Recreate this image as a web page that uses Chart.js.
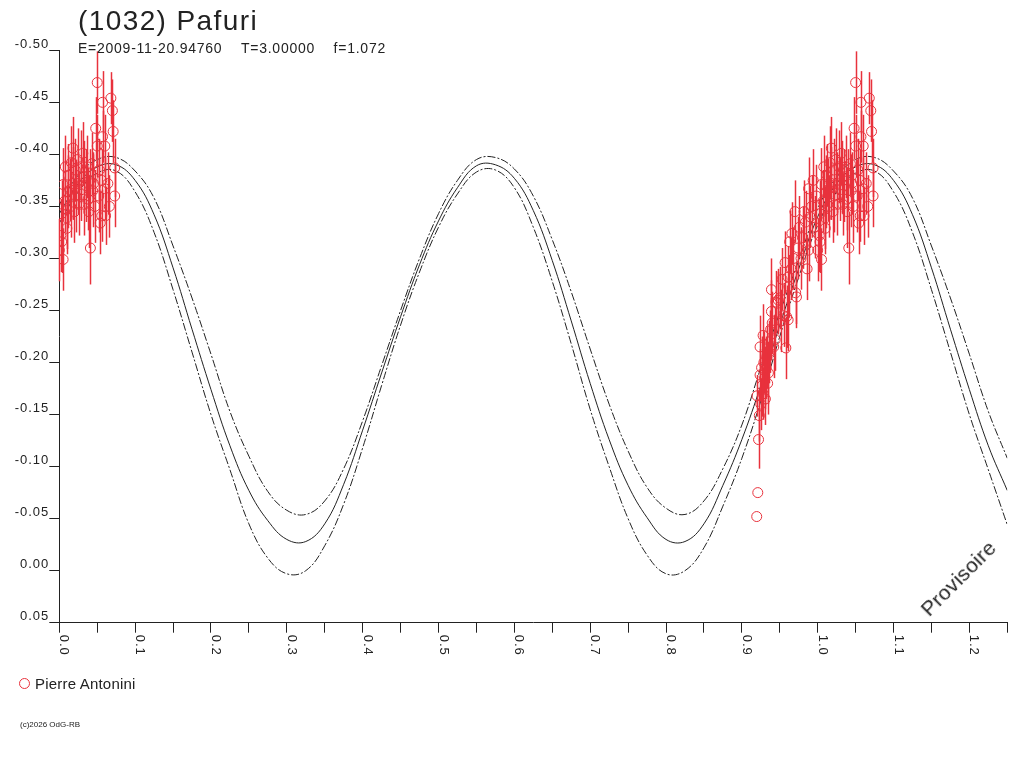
<!DOCTYPE html>
<html>
<head>
<meta charset="utf-8">
<script src="https://cdn.jsdelivr.net/npm/chart.js@4.4.1/dist/chart.umd.min.js"></script>
<style>
body { margin: 0; background: #fff; font-family: "Liberation Sans", Arial, sans-serif; color: #222; }
#wrap { position: relative; width: 1024px; height: 768px; overflow: hidden; }
#lc { position: absolute; left: 0; top: 0; }
.t { position: absolute; white-space: nowrap; line-height: 1; }
#leg-dot { position: absolute; left: 19px; top: 678px; width: 9px; height: 9px; border: 1px solid #e8323c; border-radius: 50%; }
</style>
</head>
<body>
<div id="wrap">
  <canvas id="lc" width="1024" height="768"></canvas>
  <div class="t" style="left:78px;top:7px;font-size:28px;letter-spacing:1.4px">(1032) Pafuri</div>
  <div class="t" style="left:78px;top:41px;font-size:14px;letter-spacing:0.75px">E=2009-11-20.94760&nbsp;&nbsp;&nbsp;&nbsp;T=3.00000&nbsp;&nbsp;&nbsp;&nbsp;f=1.072</div>
  <div id="leg-dot"></div>
  <div class="t" style="left:35px;top:676px;font-size:15px;letter-spacing:0.2px">Pierre Antonini</div>
  <div class="t" style="left:20px;top:721px;font-size:8px">(c)2026 OdG-RB</div>
  <div class="t" style="left:958px;top:578px;font-size:21px;letter-spacing:0.3px;transform:translate(-50%,-50%) rotate(-45deg)">Provisoire</div>
</div>
<script>
const RED = '#e8323c';
const INK = '#222';

// fitted light curve (phase, magnitude): centre and the two envelopes
const curvePhase = [0.000,0.025,0.050,0.075,0.100,0.125,0.150,0.175,0.200,0.225,
                    0.250,0.275,0.300,0.325,0.350,0.375,0.400,0.425,0.450,0.475,
                    0.500,0.525,0.550,0.575,0.600,0.625,0.650,0.675,0.700,0.725,
                    0.750,0.775,0.800,0.825,0.850,0.875,0.900,0.925,0.950,0.975,
                    1.000,1.025,1.050,1.075,1.100,1.125,1.150,1.175,1.200,1.225,1.250];
const fitMid  = [-0.343,-0.372,-0.388,-0.390,-0.375,-0.342,-0.291,-0.232,-0.174,-0.120,
                 -0.077,-0.048,-0.030,-0.028,-0.045,-0.083,-0.135,-0.190,-0.244,-0.294,
                 -0.336,-0.368,-0.389,-0.390,-0.377,-0.346,-0.298,-0.240,-0.180,-0.126,
                 -0.082,-0.051,-0.030,-0.028,-0.045,-0.082,-0.126,-0.178,-0.236,-0.290,
                 -0.340,-0.372,-0.388,-0.390,-0.375,-0.342,-0.291,-0.232,-0.174,-0.120,-0.077];
const fitHigh = [-0.352,-0.380,-0.395,-0.397,-0.384,-0.358,-0.312,-0.262,-0.208,-0.153,
                 -0.110,-0.076,-0.058,-0.054,-0.067,-0.098,-0.144,-0.197,-0.250,-0.300,
                 -0.343,-0.375,-0.395,-0.397,-0.386,-0.360,-0.318,-0.268,-0.213,-0.160,
                 -0.115,-0.080,-0.060,-0.054,-0.067,-0.098,-0.140,-0.195,-0.248,-0.298,
                 -0.348,-0.378,-0.395,-0.397,-0.384,-0.358,-0.312,-0.262,-0.208,-0.153,-0.108];
const fitLow  = [-0.334,-0.364,-0.382,-0.384,-0.364,-0.325,-0.270,-0.210,-0.150,-0.097,
                 -0.045,-0.012, 0.003, 0.000,-0.024,-0.064,-0.118,-0.178,-0.236,-0.287,
                 -0.330,-0.362,-0.383,-0.385,-0.368,-0.330,-0.278,-0.218,-0.155,-0.100,
                 -0.050,-0.015, 0.003, 0.000,-0.022,-0.062,-0.108,-0.163,-0.225,-0.282,
                 -0.332,-0.364,-0.382,-0.384,-0.364,-0.325,-0.270,-0.210,-0.150,-0.097,-0.044];

// observations (Pierre Antonini): phase, reduced magnitude, error
const obsPhase = [0.000,0.002,0.003,0.003,0.005,0.005,0.007,0.008,0.010,0.010,
                  0.011,0.012,0.014,0.015,0.016,0.018,0.018,0.020,0.021,0.022,
                  0.024,0.025,0.026,0.028,0.029,0.031,0.032,0.033,0.035,0.037,
                  0.038,0.039,0.040,0.041,0.043,0.044,0.045,0.047,0.048,0.050,
                  0.050,0.052,0.053,0.054,0.056,0.056,0.057,0.057,0.060,0.060,
                  0.061,0.064,0.066,0.068,0.070,0.071,0.073,0.073,
                  0.9196,0.921,0.922,0.923,0.920,0.924,0.924,0.925,0.926,0.927,
                  0.928,0.928,0.929,0.930,0.931,0.932,0.933,0.934,0.935,0.936,
                  0.937,0.938,0.939,0.939,0.940,0.942,0.944,0.945,0.947,0.948,
                  0.950,0.951,0.953,0.955,0.957,0.958,0.959,0.961,0.961,0.962,
                  0.963,0.965,0.966,0.968,0.970,0.971,0.972,0.974,0.976,0.978,
                  0.980,0.982,0.984,0.986,0.988,0.988,0.990,0.992,0.994,0.996,0.998];
const obsMag   = [-0.308,-0.322,-0.316,-0.343,-0.299,-0.371,-0.355,-0.388,-0.339,-0.329,
                  -0.364,-0.380,-0.366,-0.350,-0.392,-0.406,-0.372,-0.345,-0.385,-0.360,
                  -0.395,-0.372,-0.352,-0.388,-0.366,-0.401,-0.378,-0.352,-0.370,-0.388,
                  -0.357,-0.345,-0.375,-0.310,-0.391,-0.365,-0.372,-0.350,-0.425,-0.469,
                  -0.408,-0.360,-0.385,-0.334,-0.375,-0.341,-0.450,-0.417,-0.408,-0.367,
                  -0.341,-0.372,-0.350,-0.454,-0.442,-0.422,-0.387,-0.360,
                  -0.052,-0.075,-0.126,-0.149,-0.168,-0.188,-0.215,-0.160,-0.195,-0.178,
                  -0.226,-0.170,-0.200,-0.185,-0.165,-0.195,-0.205,-0.180,-0.190,-0.210,
                  -0.220,-0.232,-0.249,-0.270,-0.238,-0.215,-0.222,-0.258,-0.257,-0.260,
                  -0.262,-0.240,-0.280,-0.245,-0.296,-0.214,-0.244,-0.241,-0.282,-0.273,
                  -0.316,-0.290,-0.324,-0.300,-0.345,-0.267,-0.263,-0.310,-0.330,-0.300,
                  -0.320,-0.345,-0.335,-0.290,-0.367,-0.308,-0.340,-0.350,-0.375,-0.330,-0.360];
const obsErr   = [0.030,0.035,0.030,0.032,0.030,0.035,0.030,0.030,0.030,0.025,
                  0.035,0.030,0.030,0.030,0.035,0.030,0.035,0.030,0.030,0.035,
                  0.030,0.030,0.030,0.035,0.030,0.030,0.035,0.030,0.035,0.030,
                  0.030,0.035,0.030,0.035,0.030,0.035,0.030,0.035,0.030,0.030,
                  0.030,0.035,0.030,0.030,0.030,0.025,0.030,0.025,0.030,0.030,
                  0.028,0.030,0.030,0.025,0.030,0.030,0.028,0.030,
                  0.000,0.000,0.028,0.025,0.020,0.025,0.030,0.025,0.030,0.030,
                  0.030,0.025,0.030,0.030,0.025,0.030,0.030,0.030,0.030,0.030,
                  0.030,0.030,0.030,0.030,0.030,0.030,0.030,0.030,0.030,0.030,
                  0.030,0.030,0.030,0.030,0.030,0.030,0.030,0.030,0.030,0.030,
                  0.030,0.030,0.030,0.030,0.030,0.030,0.030,0.030,0.030,0.030,
                  0.030,0.030,0.030,0.030,0.030,0.030,0.030,0.030,0.030,0.030,0.030];

const xMin = 0, xMax = 1.25, xStep = 0.05;
const yMin = -0.50, yMax = 0.05, yStep = 0.05;

// the early phases are repeated one period later, as on the original plot
const obsPoints = [];
obsPhase.forEach((p, i) => {
    obsPoints.push({x: p, y: obsMag[i], e: obsErr[i]});
    if (p + 1 <= xMax) obsPoints.push({x: p + 1, y: obsMag[i], e: obsErr[i]});
});

const curve = arr => curvePhase.map((p, i) => ({x: p, y: arr[i]}));

const errorBars = {
    id: 'errorBars',
    afterDatasetsDraw(chart) {
        const ctx = chart.ctx, sx = chart.scales.x, sy = chart.scales.y;
        ctx.save();
        ctx.strokeStyle = RED;
        ctx.lineWidth = 1.5;
        obsPoints.forEach(pt => {
            if (!pt.e) return;
            const x = Math.round(sx.getPixelForValue(pt.x)) + 0.5;
            ctx.beginPath();
            ctx.moveTo(x, sy.getPixelForValue(pt.y - pt.e));
            ctx.lineTo(x, sy.getPixelForValue(pt.y + pt.e));
            ctx.stroke();
        });
        ctx.restore();
    }
};

// x labels read top to bottom, so they are drawn here
const xLabels = {
    id: 'xLabels',
    beforeDraw(chart) { chart.ctx.letterSpacing = '1px'; },
    afterDraw(chart) {
        const ctx = chart.ctx, sx = chart.scales.x;
        ctx.save();
        ctx.font = '13px "Liberation Sans", Arial, sans-serif';
        ctx.fillStyle = INK;
        ctx.textAlign = 'left';
        ctx.textBaseline = 'alphabetic';
        sx.ticks.forEach(t => {
            const hund = Math.round(t.value * 100);
            if (hund % 10 !== 0) return;
            ctx.save();
            ctx.translate(sx.getPixelForValue(t.value) + 1, sx.top + 12);
            ctx.rotate(Math.PI / 2);
            ctx.fillText((hund / 100).toFixed(1), 0, 0);
            ctx.restore();
        });
        ctx.restore();
    }
};

new Chart(document.getElementById('lc'), {
    type: 'scatter',
    data: {
        datasets: [
            {
                label: 'Pierre Antonini',
                data: obsPoints,
                order: 0,
                pointStyle: 'circle',
                pointRadius: 5,
                borderWidth: 1,
                borderColor: RED,
                backgroundColor: 'rgba(0,0,0,0)'
            },
            {
                type: 'line', label: 'fit', data: curve(fitMid), order: 1,
                borderColor: INK, borderWidth: 1, pointRadius: 0, tension: 0.4, fill: false
            },
            {
                type: 'line', label: 'fit+', data: curve(fitHigh), order: 2,
                borderColor: INK, borderWidth: 1, borderDash: [8, 2, 2, 2], pointRadius: 0, tension: 0.4, fill: false
            },
            {
                type: 'line', label: 'fit-', data: curve(fitLow), order: 3,
                borderColor: INK, borderWidth: 1, borderDash: [8, 2, 2, 2], pointRadius: 0, tension: 0.4, fill: false
            }
        ]
    },
    options: {
        responsive: false,
        animation: false,
        layout: { padding: { left: 0, top: 50.3, right: 16.7, bottom: 0 } },
        plugins: { legend: { display: false }, tooltip: { enabled: false }, title: { display: false } },
        scales: {
            x: {
                type: 'linear',
                min: xMin, max: xMax,
                afterFit: s => { s.height = 768 - 622.7; },
                border: { display: true, color: INK, width: 1 },
                grid: { drawOnChartArea: false, drawTicks: true, tickLength: 10, color: INK, tickColor: INK },
                ticks: { stepSize: xStep, autoSkip: false, maxRotation: 0, callback: () => '' }
            },
            y: {
                type: 'linear',
                reverse: true,
                min: yMin, max: yMax,
                afterFit: s => { s.width = 59.3; },
                border: { display: true, color: INK, width: 1 },
                grid: { drawOnChartArea: false, drawTicks: true, tickLength: 10, color: INK, tickColor: INK },
                ticks: {
                    stepSize: yStep, autoSkip: false, padding: 0, labelOffset: -6,
                    color: INK,
                    font: { family: '"Liberation Sans", Arial, sans-serif', size: 13 },
                    callback: v => (Math.abs(v) < 1e-9 ? 0 : v).toFixed(2)
                }
            }
        }
    },
    plugins: [errorBars, xLabels]
});
</script>
</body>
</html>
